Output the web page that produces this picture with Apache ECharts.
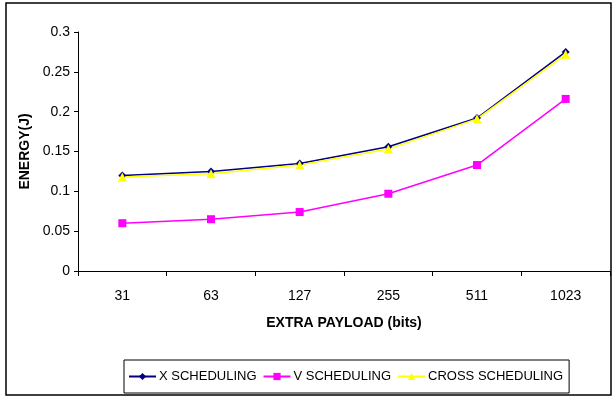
<!DOCTYPE html>
<html>
<head>
<meta charset="utf-8">
<script src="https://cdn.jsdelivr.net/npm/echarts@6/dist/echarts.min.js"></script>
<style>
  html, body { margin: 0; padding: 0; background: #fff; }
  #chart { width: 615px; height: 398px; }
</style>
</head>
<body>
<div id="chart"></div>
<script>
// Extra payload sizes (bits) along the x axis
const payloads = ['31', '63', '127', '255', '511', '1023'];

// Energy consumed (J) by each scheduling scheme
const xScheduling = [0.120, 0.125, 0.135, 0.156, 0.192, 0.275];
const vScheduling = [0.060, 0.065, 0.074, 0.097, 0.133, 0.216];
const crossScheduling = [0.118, 0.122, 0.133, 0.153, 0.191, 0.272];

const font = '"Liberation Sans", Arial, sans-serif';

const chart = echarts.init(document.getElementById('chart'), null, { renderer: 'canvas' });

function lineSeries(name, data, color, symbol, size) {
  return {
    name: name,
    type: 'line',
    data: data,
    symbol: symbol,
    symbolSize: size,
    showSymbol: true,
    lineStyle: { color: color, width: 1.5 },
    itemStyle: { color: color },
    emphasis: { disabled: true },
    animation: false
  };
}

chart.setOption({
  animation: false,
  backgroundColor: '#fff',
  graphic: [{
    type: 'rect',
    shape: { x: 6, y: 3, width: 605, height: 392 },
    style: { fill: 'none', stroke: '#000', lineWidth: 1.5 },
    silent: true
  }],
  grid: { left: 78, right: 5, top: 32, bottom: 127, containLabel: false },
  xAxis: {
    type: 'category',
    data: payloads,
    boundaryGap: true,
    name: 'EXTRA PAYLOAD (bits)',
    nameLocation: 'middle',
    nameGap: 45,
    nameTextStyle: { fontFamily: font, fontWeight: 'bold', fontSize: 14, color: '#000' },
    axisLine: { lineStyle: { color: '#000', width: 1 } },
    axisTick: { show: true, length: 5, lineStyle: { color: '#000' } },
    axisLabel: { margin: 18, fontFamily: font, fontSize: 14, color: '#000' },
    splitLine: { show: false }
  },
  yAxis: {
    type: 'value',
    min: 0,
    max: 0.3,
    interval: 0.05,
    name: 'ENERGY(J)',
    nameLocation: 'middle',
    nameGap: 36,
    nameTextStyle: { fontFamily: font, fontWeight: 'bold', fontSize: 14, color: '#000' },
    axisLine: { show: true, lineStyle: { color: '#000', width: 1 } },
    axisTick: { show: true, length: 4, lineStyle: { color: '#000' } },
    axisLabel: {
      margin: 8, fontFamily: font, fontSize: 14, color: '#000',
      formatter: v => String(parseFloat(v.toFixed(2)))
    },
    splitLine: { show: false }
  },
  legend: {
    left: 124,
    top: 360,
    width: 560,
    padding: [10, 6, 10, 4],
    itemGap: 6,
    itemWidth: 27,
    itemHeight: 9,
    borderColor: '#000',
    borderWidth: 1,
    textStyle: { fontFamily: font, fontSize: 13, color: '#000', padding: [0, 0, 0, -2] },
    data: ['X SCHEDULING', 'V SCHEDULING', 'CROSS SCHEDULING']
  },
  series: [
    lineSeries('X SCHEDULING', xScheduling, '#000080', 'diamond', 8),
    lineSeries('V SCHEDULING', vScheduling, '#FF00FF', 'rect', 8),
    lineSeries('CROSS SCHEDULING', crossScheduling, '#FFFF00', 'triangle', 9)
  ]
});
</script>
</body>
</html>
